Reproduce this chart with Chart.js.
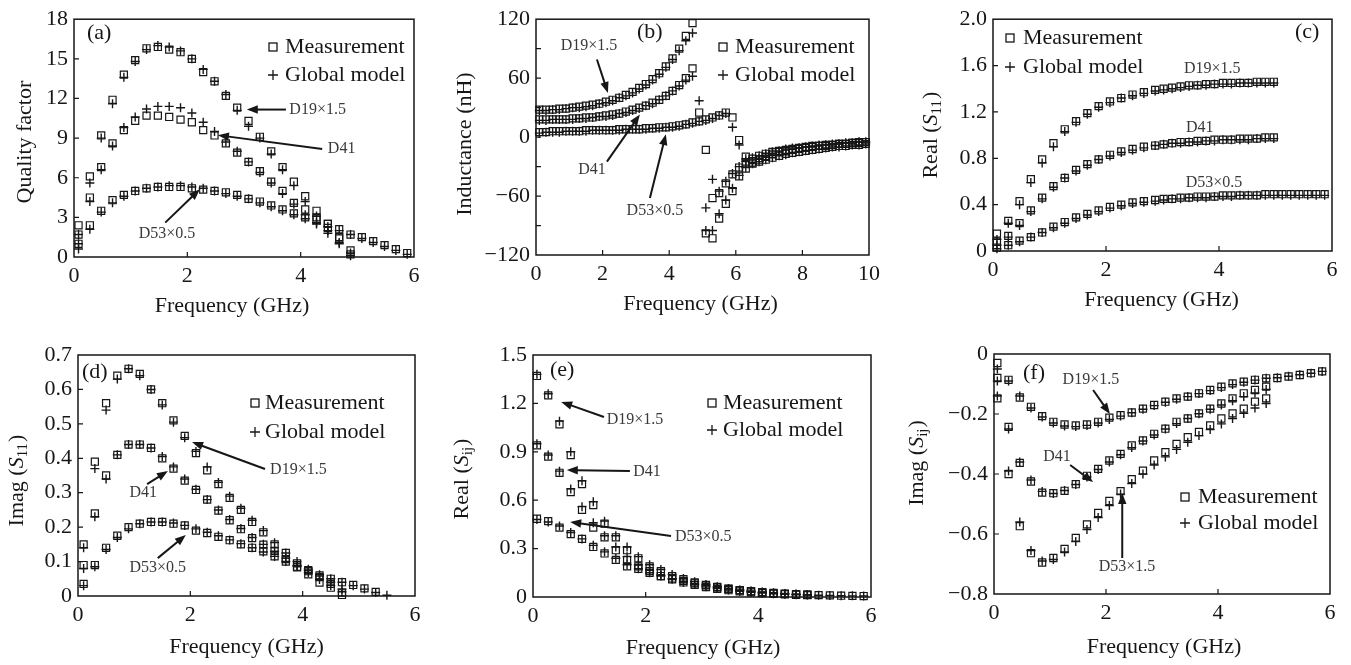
<!DOCTYPE html>
<html><head><meta charset="utf-8">
<script src="https://cdn.jsdelivr.net/npm/chart.js@4.4.1/dist/chart.umd.min.js"></script>
<style>
html,body{margin:0;padding:0;background:#fff;}
body{width:1351px;height:665px;overflow:hidden;position:relative;}
canvas{position:absolute;}
</style>
</head><body>
<canvas id="pa"></canvas><canvas id="pb"></canvas><canvas id="pc"></canvas>
<canvas id="pd"></canvas><canvas id="pe"></canvas><canvas id="pf"></canvas>
<script>
// ---------------- DATA ----------------
// (a) Quality factor
const freqA = [0.08,0.28,0.48,0.68,0.88,1.08,1.28,1.48,1.68,1.88,2.08,2.28,2.48,2.68,2.88,3.08,3.28,3.48,3.68,3.88,4.08,4.28,4.48,4.68,4.88,5.08,5.28,5.48,5.68,5.88];
const qD19Meas  = [2.4,6.1,9.2,11.9,13.8,14.9,15.8,15.9,15.7,15.5,15.0,14.0,13.3,12.2,11.3,10.3,9.1,8.0,6.8,5.7,4.6,3.5,2.5,1.5,0.2];
const qD19Model = [1.7,5.6,9.0,11.6,13.6,14.8,15.7,16.0,15.9,15.6,15.0,14.2,13.3,12.3,11.1,9.9,9.0,7.8,6.6,5.4,4.2,3.1,2.0,1.0,0.1];
const qD41Meas  = [1.7,4.5,6.8,8.6,9.6,10.3,10.7,10.7,10.6,10.4,10.2,9.6,9.2,8.6,7.9,7.2,6.5,5.7,5.0,4.1,3.6,3.0,2.2,1.4,0.5];
const qD41Model = [1.0,4.2,6.6,8.4,9.8,10.6,11.2,11.4,11.4,11.3,10.9,10.2,9.5,8.7,8.0,7.2,6.4,5.6,4.8,4.0,3.2,2.5,1.8,1.1,0.3];
const qD53Meas  = [1.0,2.4,3.5,4.3,4.7,5.0,5.2,5.3,5.3,5.3,5.2,5.1,5.0,4.9,4.7,4.4,4.2,3.9,3.6,3.3,3.0,2.8,2.5,2.1,1.7,1.5,1.2,0.9,0.6,0.3];
const qD53Model = [0.6,2.1,3.4,4.1,4.6,5.0,5.2,5.3,5.4,5.4,5.3,5.2,5.0,4.8,4.6,4.4,4.1,3.8,3.5,3.2,2.9,2.6,2.3,2.0,1.7,1.4,1.1,0.8,0.5,0.2];

// (b) Inductance (nH)
const freqB = [0.1,0.3,0.5,0.7,0.9,1.1,1.3,1.5,1.7,1.9,2.1,2.3,2.5,2.7,2.9,3.1,3.3,3.5,3.7,3.9,4.1,4.3,4.5,4.7,4.9,5.1,5.3,5.5,5.7,5.9,6.1,6.3,6.5,6.7,6.9,7.1,7.3,7.5,7.7,7.9,8.1,8.3,8.5,8.7,8.9,9.1,9.3,9.5,9.7,9.9];
const lD19Meas  = [28,28,28,29,29,30,31,32,33,34,36,38,40,43,46,50,54,59,65,72,80,90,103,116,null,-98,-103,-83,-68,-55,-40,-32,-27,-23,-20,-17,-15,-14,-13,-12,-11,-10,-9,-9,-8,-7,-7,-6,-5,-5];
const lD19Model = [27,27,28,28,29,30,30,31,32,34,35,37,40,42,45,49,53,58,64,71,79,88,98,106,null,-95,-95,-78,-64,-52,-39,-31,-26,-22,-19,-17,-15,-13,-12,-11,-10,-10,-9,-8,-8,-7,-6,-6,-5,-5];
const lD41Meas  = [18,18,18,18,18,19,19,20,20,21,22,23,24,26,28,30,32,35,38,42,47,53,60,70,25,-13,-62,-57,-47,-38,-31,-26,-22,-19,-17,-15,-14,-13,-12,-11,-10,-9,-9,-8,-8,-7,-7,-6,-6,-5];
const lD41Model = [17,17,18,18,18,18,19,19,20,21,21,22,24,25,27,29,32,34,38,42,47,52,58,62,37,-72,-43,-55,-45,-37,-30,-25,-21,-19,-17,-15,-14,-12,-11,-11,-10,-9,-8,-8,-7,-7,-6,-6,-5,-5];
const lD53Meas  = [5,5,6,6,6,6,6,7,7,7,7,7,8,8,8,8,9,9,10,10,11,12,13,15,16,18,20,22,25,20,-3,-20,-26,-25,-23,-21,-19,-17,-16,-15,-14,-13,-12,-11,-10,-9,-9,-8,-8,-7];
const lD53Model = [4,5,5,5,6,6,6,6,7,7,7,7,7,8,8,8,8,9,9,10,10,11,13,14,16,17,19,22,24,10,-8,-22,-27,-25,-23,-21,-19,-18,-16,-15,-14,-13,-12,-11,-10,-10,-9,-8,-8,-7];

// (c) Real(S11)
const freqC = [0.07,0.27,0.47,0.67,0.87,1.07,1.27,1.47,1.67,1.87,2.07,2.27,2.47,2.67,2.87,3.02,3.17,3.32,3.47,3.62,3.77,3.92,4.07,4.22,4.37,4.52,4.67,4.82,4.97,5.12,5.27,5.42,5.57,5.72,5.87];
const rD19Meas  = [0.15,0.26,0.43,0.62,0.79,0.93,1.05,1.12,1.19,1.25,1.29,1.32,1.35,1.37,1.39,1.40,1.41,1.42,1.43,1.43,1.44,1.44,1.45,1.45,1.45,1.45,1.46,1.46,1.46];
const rD19Model = [0.10,0.24,0.40,0.59,0.76,0.90,1.03,1.11,1.18,1.24,1.28,1.32,1.34,1.36,1.38,1.39,1.40,1.41,1.42,1.43,1.43,1.44,1.44,1.44,1.45,1.45,1.45,1.45,1.45];
const rD41Meas  = [0.08,0.13,0.24,0.35,0.46,0.56,0.63,0.70,0.75,0.79,0.83,0.86,0.88,0.90,0.91,0.92,0.93,0.94,0.94,0.95,0.95,0.96,0.96,0.96,0.97,0.97,0.97,0.98,0.98];
const rD41Model = [0.05,0.12,0.22,0.34,0.45,0.55,0.63,0.69,0.74,0.79,0.82,0.85,0.87,0.89,0.91,0.92,0.93,0.93,0.94,0.94,0.95,0.95,0.96,0.96,0.96,0.96,0.97,0.97,0.97];
const rD53Meas  = [0.03,0.05,0.09,0.12,0.16,0.21,0.25,0.29,0.32,0.35,0.38,0.40,0.42,0.43,0.44,0.45,0.45,0.46,0.46,0.47,0.47,0.47,0.48,0.48,0.48,0.48,0.48,0.49,0.49,0.49,0.49,0.49,0.49,0.49,0.49];
const rD53Model = [0.02,0.05,0.08,0.12,0.16,0.20,0.24,0.28,0.31,0.34,0.37,0.39,0.41,0.42,0.43,0.44,0.45,0.45,0.46,0.46,0.46,0.47,0.47,0.47,0.48,0.48,0.48,0.48,0.48,0.48,0.48,0.48,0.48,0.48,0.48];

// (d) Imag(S11)
const freqD = [0.1,0.3,0.5,0.7,0.9,1.1,1.3,1.5,1.7,1.9,2.1,2.3,2.5,2.7,2.9,3.1,3.3,3.5,3.7,3.9,4.1,4.3,4.5,4.7,4.9,5.1,5.3,5.5];
const iD19Meas  = [0.15,0.39,0.56,0.64,0.66,0.645,0.60,0.56,0.51,0.465,0.415,0.365,0.325,0.285,0.25,0.215,0.185,0.15,0.125,0.095,0.075,0.055,0.035,0.01];
const iD19Model = [0.14,0.37,0.54,0.63,0.66,0.64,0.60,0.555,0.505,0.46,0.42,0.375,0.33,0.29,0.255,0.22,0.19,0.155,0.125,0.10,0.078,0.058,0.04,0.02];
const iD41Meas  = [0.09,0.24,0.35,0.41,0.44,0.44,0.43,0.40,0.37,0.335,0.308,0.28,0.248,0.22,0.194,0.168,0.149,0.131,0.107,0.083,0.063,0.039,0.024,0.003];
const iD41Model = [0.08,0.23,0.34,0.41,0.44,0.44,0.43,0.405,0.375,0.34,0.31,0.28,0.25,0.222,0.196,0.17,0.15,0.13,0.11,0.088,0.068,0.048,0.03,0.012];
const iD53Meas  = [0.035,0.09,0.14,0.175,0.20,0.21,0.215,0.215,0.21,0.205,0.19,0.183,0.172,0.162,0.15,0.14,0.13,0.115,0.10,0.085,0.072,0.06,0.05,0.04,0.032,0.022,0.012,null];
const iD53Model = [0.03,0.085,0.135,0.17,0.195,0.21,0.215,0.215,0.212,0.205,0.195,0.185,0.175,0.163,0.152,0.14,0.128,0.115,0.10,0.087,0.074,0.062,0.05,0.04,0.03,0.02,0.01,0.002];

// (e) Real(Sij)
const freqE = [0.07,0.27,0.47,0.67,0.87,1.07,1.27,1.47,1.67,1.87,2.07,2.27,2.47,2.67,2.87,3.07,3.27,3.47,3.67,3.87,4.07,4.27,4.47,4.67,4.87,5.07,5.27,5.47,5.67,5.87];
const eD19Meas  = [1.37,1.25,1.07,0.88,0.70,0.57,0.455,0.37,0.29,0.24,0.19,0.16,0.13,0.11,0.09,0.075,0.062,0.052,0.043,0.036,0.03,0.025,0.021,0.018,0.015];
const eD19Model = [1.38,1.26,1.09,0.90,0.72,0.59,0.47,0.38,0.31,0.25,0.20,0.17,0.14,0.115,0.095,0.078,0.064,0.053,0.044,0.037,0.031,0.026,0.022,0.018,0.015];
const eD41Meas  = [0.94,0.87,0.77,0.65,0.54,0.43,0.37,0.29,0.23,0.19,0.16,0.13,0.11,0.09,0.075,0.062,0.05,0.042,0.035,0.029,0.024,0.02,0.017,0.014,0.012];
const eD41Model = [0.95,0.88,0.78,0.67,0.56,0.46,0.38,0.31,0.25,0.20,0.165,0.135,0.112,0.092,0.077,0.063,0.052,0.043,0.035,0.029,0.024,0.02,0.017,0.014,0.012];
const eD53Meas  = [0.485,0.47,0.43,0.39,0.36,0.31,0.27,0.23,0.19,0.175,0.15,0.13,0.115,0.10,0.085,0.072,0.06,0.05,0.042,0.035,0.029,0.024,0.02,0.017,0.014,0.012,0.01,0.008,0.007,0.006];
const eD53Model = [0.48,0.465,0.44,0.40,0.36,0.32,0.28,0.24,0.20,0.175,0.15,0.13,0.113,0.098,0.084,0.071,0.06,0.05,0.042,0.035,0.029,0.024,0.02,0.017,0.014,0.011,0.009,0.008,0.007,0.006];

// (f) Imag(Sij)
const freqF = [0.06,0.26,0.46,0.66,0.86,1.06,1.26,1.46,1.66,1.86,2.06,2.26,2.46,2.66,2.86,3.06,3.26,3.46,3.66,3.86,4.06,4.26,4.46,4.66,4.86,5.06,5.26,5.46,5.66,5.86];
const fD19Meas  = [-0.03,-0.086,-0.145,-0.176,-0.207,-0.226,-0.235,-0.238,-0.235,-0.226,-0.212,-0.204,-0.195,-0.182,-0.170,-0.159,-0.148,-0.142,-0.131,-0.12,-0.109,-0.098,-0.092,-0.086,-0.081,-0.08,-0.075,-0.07,-0.064,-0.058];
const fD19Model = [-0.05,-0.09,-0.14,-0.18,-0.21,-0.23,-0.24,-0.242,-0.238,-0.23,-0.218,-0.207,-0.196,-0.184,-0.172,-0.161,-0.151,-0.142,-0.132,-0.122,-0.112,-0.102,-0.094,-0.087,-0.081,-0.079,-0.074,-0.069,-0.064,-0.058];
const fD41Meas  = [-0.08,-0.243,-0.363,-0.425,-0.462,-0.464,-0.456,-0.434,-0.406,-0.383,-0.355,-0.333,-0.305,-0.288,-0.266,-0.249,-0.226,-0.215,-0.198,-0.182,-0.165,-0.148,-0.131,-0.12,-0.109];
const fD41Model = [-0.09,-0.25,-0.36,-0.42,-0.458,-0.465,-0.455,-0.435,-0.41,-0.385,-0.36,-0.336,-0.312,-0.29,-0.27,-0.25,-0.232,-0.215,-0.199,-0.184,-0.17,-0.156,-0.142,-0.13,-0.118];
const fD53Meas  = [-0.148,-0.40,-0.574,-0.664,-0.695,-0.68,-0.65,-0.613,-0.568,-0.53,-0.49,-0.457,-0.417,-0.389,-0.355,-0.327,-0.30,-0.277,-0.26,-0.238,-0.215,-0.198,-0.182,-0.159,-0.148];
const fD53Model = [-0.14,-0.39,-0.56,-0.655,-0.69,-0.685,-0.66,-0.625,-0.585,-0.545,-0.505,-0.467,-0.432,-0.4,-0.37,-0.343,-0.318,-0.294,-0.272,-0.252,-0.233,-0.215,-0.198,-0.18,-0.165];

// tick values / labels
const xTicks6 = [0,2,4,6];       const xLabels6 = ['0','2','4','6'];
const xTicks10 = [0,2,4,6,8,10]; const xLabels10 = ['0','2','4','6','8','10'];
const yTicksA = [0,3,6,9,12,15,18];        const yLabelsA = ['0','3','6','9','12','15','18'];
const yTicksB = [-120,-60,0,60,120];       const yLabelsB = ['\u2212120','\u221260','0','60','120'];
const yMinorB = [-90,-30,30,90];
const yTicksC = [0,0.4,0.8,1.2,1.6,2.0];   const yLabelsC = ['0','0.4','0.8','1.2','1.6','2.0'];
const yTicksD = [0,0.1,0.2,0.3,0.4,0.5,0.6,0.7]; const yLabelsD = ['0','0.1','0.2','0.3','0.4','0.5','0.6','0.7'];
const yTicksE = [0,0.3,0.6,0.9,1.2,1.5];   const yLabelsE = ['0','0.3','0.6','0.9','1.2','1.5'];
const yTicksF = [-0.8,-0.6,-0.4,-0.2,0];   const yLabelsF = ['\u22120.8','\u22120.6','\u22120.4','\u22120.2','0'];

// ---------------- STYLE / LAYOUT ----------------
const FAM = "'Liberation Serif','Times New Roman',serif";
const INK = '#161616';
const NOTE = '#3a3a3a';

const panels = [
 { id:'pa', box:[0,0,440,320], plot:[74,15,414,257], x:[0,6], xt:xTicks6, xl:xLabels6, y:[0,18], yt:yTicksA, yl:yLabelsA, ym:[],
   series:[[freqA,qD19Meas,qD19Model],[freqA,qD41Meas,qD41Model],[freqA,qD53Meas,qD53Model]],
   yTitle:[['Quality factor',0]], yOff:[49,4], xOff:[-12,49],
   legend:[273,47,75,285], label:['(a)',87,33],
   notes:[{t:'D19\u00d71.5', at:[3.80,11.16], al:'left', ar:[[3.74,11.16],[3.05,11.16]]},
          {t:'D41', at:[4.48,8.18], al:'left', ar:[[4.38,8.18],[2.54,9.22]]},
          {t:'D53\u00d70.5', at:[1.64,1.79], al:'center', ar:[[1.61,2.6],[2.22,5.13]]}] },
 { id:'pb', box:[450,0,445,320], plot:[536,15,869,255], x:[0,10], xt:xTicks10, xl:xLabels10, y:[-120,120], yt:yTicksB, yl:yLabelsB, ym:yMinorB,
   series:[[freqB,lD19Meas,lD19Model],[freqB,lD41Meas,lD41Model],[freqB,lD53Meas,lD53Model]],
   yTitle:[['Inductance (nH)',0]], yOff:[71,7], xOff:[-2,49],
   legend:[723,47,75,735], label:['(b)',637,32],
   notes:[{t:'D19\u00d71.5', at:[1.59,93], al:'center', ar:[[1.83,79],[2.16,45]]},
          {t:'D41', at:[1.68,-33], al:'center', ar:[[2.13,-25],[3.12,23]]},
          {t:'D53\u00d70.5', at:[3.57,-75], al:'center', ar:[[3.42,-62],[3.9,3]]}] },
 { id:'pc', box:[900,0,451,320], plot:[993,15,1332,251], x:[0,6], xt:xTicks6, xl:xLabels6, y:[0,2], yt:yTicksC, yl:yLabelsC, ym:[],
   series:[[freqC,rD19Meas,rD19Model],[freqC,rD41Meas,rD41Model],[freqC,rD53Meas,rD53Model]],
   yTitle:[['Real (',0],['S',1],['11',2],[')',0]], yOff:[62,0], xOff:[-1,49],
   legend:[1010,38,67,1023], label:['(c)',1295,32],
   notes:[{t:'D19\u00d71.5', at:[3.88,1.576], al:'center'},
          {t:'D41', at:[3.66,1.06], al:'center'},
          {t:'D53\u00d70.5', at:[3.91,0.585], al:'center'}] },
 { id:'pd', box:[0,320,445,345], plot:[78,355,415,596], x:[0,6], xt:xTicks6, xl:xLabels6, y:[0,0.7], yt:yTicksD, yl:yLabelsD, ym:[],
   series:[[freqD,iD19Meas,iD19Model],[freqD,iD41Meas,iD41Model],[freqD,iD53Meas,iD53Model]],
   yTitle:[['Imag (',0],['S',1],['11',2],[')',0]], yOff:[61,5], xOff:[0,51],
   legend:[255,403,432,265], label:['(d)',82,372],
   notes:[{t:'D19\u00d71.5', at:[3.42,0.366], al:'left', ar:[[3.33,0.369],[2.03,0.447]]},
          {t:'D41', at:[1.16,0.30], al:'center', ar:[[1.23,0.325],[1.60,0.363]]},
          {t:'D53\u00d70.5', at:[1.42,0.081], al:'center', ar:[[1.42,0.11],[1.92,0.177]]}] },
 { id:'pe', box:[445,320,450,345], plot:[533,355,871,597], x:[0,6], xt:xTicks6, xl:xLabels6, y:[0,1.5], yt:yTicksE, yl:yLabelsE, ym:[],
   series:[[freqE,eD19Meas,eD19Model],[freqE,eD41Meas,eD41Model],[freqE,eD53Meas,eD53Model]],
   yTitle:[['Real (',0],['S',1],['ij',2],[')',0]], yOff:[71,3], xOff:[1,51],
   legend:[712,403,430,723], label:['(e)',550,370],
   notes:[{t:'D19\u00d71.5', at:[1.31,1.097], al:'left', ar:[[1.26,1.116],[0.50,1.209]]},
          {t:'D41', at:[1.78,0.775], al:'left', ar:[[1.72,0.781],[0.60,0.787]]},
          {t:'D53\u00d70.5', at:[2.52,0.372], al:'left', ar:[[2.45,0.378],[0.66,0.465]]}] },
 { id:'pf', box:[900,320,451,345], plot:[994,354,1330,594], x:[0,6], xt:xTicks6, xl:xLabels6, y:[-0.8,0], yt:yTicksF, yl:yLabelsF, ym:[],
   series:[[freqF,fD19Meas,fD19Model],[freqF,fD41Meas,fD41Model],[freqF,fD53Meas,fD53Model]],
   yTitle:[['Imag (',0],['S',1],['ij',2],[')',0]], yOff:[77,-11], xOff:[2,53],
   legend:[1185,497,523,1198], label:['(f)',1023,373],
   notes:[{t:'D19\u00d71.5', at:[1.73,-0.087], al:'center', ar:[[1.77,-0.12],[2.07,-0.2]]},
          {t:'D41', at:[1.125,-0.343], al:'center', ar:[[1.36,-0.37],[1.77,-0.427]]},
          {t:'D53\u00d71.5', at:[2.375,-0.71], al:'center', ar:[[2.29,-0.68],[2.29,-0.463]]}] }
];

// ---------------- HELPERS ----------------
function pts(f, v){ const o=[]; for(let i=0;i<f.length;i++){ if(v[i]!==null && v[i]!==undefined) o.push({x:f[i], y:v[i]}); } return o; }

function drawRich(ctx, parts, cx, cy){
  const fontOf = k => k===1 ? 'italic 22px '+FAM : (k===2 ? '15px '+FAM : '22px '+FAM);
  let total = 0;
  parts.forEach(p => { ctx.font = fontOf(p[1]); total += ctx.measureText(p[0]).width + (p[1]===2?1:0); });
  ctx.save(); ctx.translate(cx, cy); ctx.rotate(-Math.PI/2);
  ctx.textAlign='left'; ctx.textBaseline='middle';
  let x = -total/2;
  parts.forEach(p => { ctx.font = fontOf(p[1]); ctx.fillText(p[0], x, p[1]===2 ? 6 : 0); x += ctx.measureText(p[0]).width + (p[1]===2?1:0); });
  ctx.restore();
}

function arrow(ctx, x1,y1,x2,y2){
  const a = Math.atan2(y2-y1, x2-x1), L = 11, W = 4.2;
  ctx.beginPath(); ctx.moveTo(x1,y1); ctx.lineTo(x2 - (L-2)*Math.cos(a), y2 - (L-2)*Math.sin(a)); ctx.stroke();
  ctx.beginPath(); ctx.moveTo(x2,y2);
  ctx.lineTo(x2 - L*Math.cos(a) + W*Math.sin(a), y2 - L*Math.sin(a) - W*Math.cos(a));
  ctx.lineTo(x2 - L*Math.cos(a) - W*Math.sin(a), y2 - L*Math.sin(a) + W*Math.cos(a));
  ctx.closePath(); ctx.fill();
}

function makeDeco(P){
  return { id:'deco_'+P.id, afterDraw(chart){
    const ctx = chart.ctx, ca = chart.chartArea, xs = chart.scales.x, ys = chart.scales.y;
    const ox = P.box[0], oy = P.box[1];
    ctx.save();
    ctx.strokeStyle = INK; ctx.fillStyle = INK;
    ctx.lineWidth = 1.5;
    ctx.strokeRect(ca.left, ca.top, ca.right-ca.left, ca.bottom-ca.top);
    ctx.lineWidth = 1.2; ctx.beginPath();
    P.yt.concat(P.ym).forEach(v => { const py = ys.getPixelForValue(v); if(py>ca.top+1 && py<ca.bottom-1){ ctx.moveTo(ca.left,py); ctx.lineTo(ca.left+5,py);} });
    P.xt.forEach(v => { const px = xs.getPixelForValue(v); if(px>ca.left+1 && px<ca.right-1){ ctx.moveTo(px,ca.bottom); ctx.lineTo(px,ca.bottom-5);} });
    ctx.stroke();
    // axis titles
    ctx.font = '22px '+FAM; ctx.textAlign='center'; ctx.textBaseline='middle';
    ctx.fillText('Frequency (GHz)', (ca.left+ca.right)/2 + P.xOff[0], ca.bottom + P.xOff[1]);
    drawRich(ctx, P.yTitle, ca.left - P.yOff[0], (ca.top+ca.bottom)/2 + P.yOff[1]);
    // panel label
    ctx.font = '22px '+FAM; ctx.textAlign='left'; ctx.textBaseline='middle';
    ctx.fillText(P.label[0], P.label[1]-ox, P.label[2]-oy);
    // legend
    const L = P.legend, sx = L[0]-ox, s1 = L[1]-oy, s2 = L[2]-oy, tx = L[3]-ox;
    ctx.lineWidth = 1.3;
    ctx.strokeRect(sx-4, s1-4, 8, 8);
    ctx.beginPath(); ctx.moveTo(sx-5, s2); ctx.lineTo(sx+5, s2); ctx.moveTo(sx, s2-5); ctx.lineTo(sx, s2+5); ctx.stroke();
    ctx.fillText('Measurement', tx, s1);
    ctx.fillText('Global model', tx, s2);
    // notes
    ctx.font = '16px '+FAM;
    P.notes.forEach(n => {
      if(n.ar){
        ctx.strokeStyle = INK; ctx.fillStyle = INK; ctx.lineWidth = 2;
        arrow(ctx, xs.getPixelForValue(n.ar[0][0]), ys.getPixelForValue(n.ar[0][1]), xs.getPixelForValue(n.ar[1][0]), ys.getPixelForValue(n.ar[1][1]));
      }
      ctx.fillStyle = NOTE; ctx.textAlign = n.al; ctx.textBaseline='middle';
      ctx.fillText(n.t, xs.getPixelForValue(n.at[0]), ys.getPixelForValue(n.at[1]));
    });
    ctx.restore();
  }};
}

// ---------------- BUILD ----------------
panels.forEach(P => {
  const cv = document.getElementById(P.id);
  cv.width = P.box[2]; cv.height = P.box[3];
  cv.style.left = P.box[0]+'px'; cv.style.top = P.box[1]+'px';
  cv.style.width = P.box[2]+'px'; cv.style.height = P.box[3]+'px';
  const YW = P.plot[0]-P.box[0], PT = P.plot[1]-P.box[1];
  const PR = P.box[0]+P.box[2]-P.plot[2], XH = P.box[1]+P.box[3]-P.plot[3];
  const datasets = [];
  P.series.forEach(s => {
    datasets.push({ data: pts(s[0], s[1]), pointStyle:'rect', pointRadius:5, pointBorderWidth:1.2,
      pointBorderColor:INK, pointBackgroundColor:'rgba(0,0,0,0)', borderColor:INK, showLine:false, clip:7 });
    datasets.push({ data: pts(s[0], s[2]), pointStyle:'cross', pointRadius:4.5, pointBorderWidth:1.4,
      pointBorderColor:INK, pointBackgroundColor:INK, borderColor:INK, showLine:false, clip:7 });
  });
  const tickFont = {family:FAM, size:22};
  new Chart(cv, {
    type:'scatter',
    data:{datasets},
    options:{
      responsive:false, animation:false, devicePixelRatio:1, events:[],
      layout:{padding:{left:0, top:PT, right:PR, bottom:0}},
      plugins:{legend:{display:false}, tooltip:{enabled:false}},
      scales:{
        x:{ type:'linear', min:P.x[0], max:P.x[1],
            afterBuildTicks: s => { s.ticks = P.xt.map(v => ({value:v})); },
            ticks:{ autoSkip:false, maxRotation:0, padding:6, color:INK, font:tickFont, callback:(v,i)=>P.xl[i] },
            grid:{display:false, drawTicks:false}, border:{display:false},
            afterFit: s => { s.height = XH; } },
        y:{ type:'linear', min:P.y[0], max:P.y[1],
            afterBuildTicks: s => { s.ticks = P.yt.map(v => ({value:v})); },
            ticks:{ autoSkip:false, padding:6, color:INK, font:tickFont, callback:(v,i)=>P.yl[i] },
            grid:{display:false, drawTicks:false}, border:{display:false},
            afterFit: s => { s.width = YW; } }
      }
    },
    plugins:[makeDeco(P)]
  });
});
</script>
</body></html>
